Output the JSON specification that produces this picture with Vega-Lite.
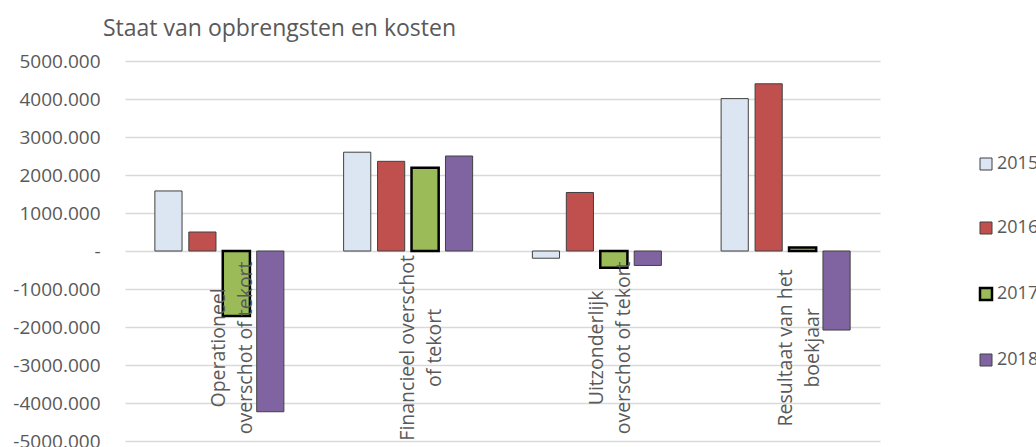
{
  "$schema": "https://vega.github.io/schema/vega-lite/v6.json",
  "autosize": {"type": "none"},
  "width": 755,
  "height": 380,
  "padding": {"left": 125, "top": 61, "right": 156, "bottom": 6},
  "background": "white",
  "title": {"text": "Staat van opbrengsten en kosten", "anchor": "start", "frame": "group", "dx": -22, "offset": 11, "fontSize": 23, "font": "Open Sans", "fontWeight": "normal", "color": "#595959"},
  "config": {"view": {"stroke": null}, "font": "Open Sans"},
  "datasets": {
    "bars": [
      {"post": "Operationeel", "year": "2015", "value": 1580},
      {"post": "Operationeel", "year": "2016", "value": 500},
      {"post": "Operationeel", "year": "2017", "value": -1710},
      {"post": "Operationeel", "year": "2018", "value": -4230},
      {"post": "Financieel", "year": "2015", "value": 2600},
      {"post": "Financieel", "year": "2016", "value": 2360},
      {"post": "Financieel", "year": "2017", "value": 2190},
      {"post": "Financieel", "year": "2018", "value": 2500},
      {"post": "Uitzonderlijk", "year": "2015", "value": -190},
      {"post": "Uitzonderlijk", "year": "2016", "value": 1540},
      {"post": "Uitzonderlijk", "year": "2017", "value": -440},
      {"post": "Uitzonderlijk", "year": "2018", "value": -380},
      {"post": "Resultaat", "year": "2015", "value": 4010},
      {"post": "Resultaat", "year": "2016", "value": 4400},
      {"post": "Resultaat", "year": "2017", "value": 90},
      {"post": "Resultaat", "year": "2018", "value": -2080}
    ],
    "cats": [
      {"post": "Operationeel", "label": "Operationeel\noverschot of tekort"},
      {"post": "Financieel", "label": "Financieel overschot\nof tekort"},
      {"post": "Uitzonderlijk", "label": "Uitzonderlijk\noverschot of tekort"},
      {"post": "Resultaat", "label": "Resultaat van het\nboekjaar"}
    ]
  },
  "layer": [
    {
      "data": {"name": "bars"},
      "mark": {"type": "bar"},
      "encoding": {
        "x": {"field": "post", "type": "nominal", "sort": ["Operationeel", "Financieel", "Uitzonderlijk", "Resultaat"], "scale": {"paddingInner": 0, "paddingOuter": 0}, "axis": null},
        "xOffset": {"field": "year", "type": "nominal", "scale": {"paddingInner": 0.2, "paddingOuter": 0.88}},
        "y": {"field": "value", "type": "quantitative", "scale": {"domain": [-5000, 5000], "nice": false},
          "axis": {"title": null, "values": [-5000, -4000, -3000, -2000, -1000, 0, 1000, 2000, 3000, 4000, 5000],
            "labelExpr": "datum.value == 0 ? '-' : (datum.value < 0 ? '-' : '') + format(abs(datum.value), '.3f')",
            "labelOverlap": false,
            "ticks": false, "domain": false, "gridColor": "#D9D9D9", "gridWidth": 1.5, "labelFontSize": 19, "labelColor": "#595959", "labelPadding": 25}},
        "color": {"field": "year", "type": "nominal", "scale": {"domain": ["2015", "2016", "2017", "2018"], "range": ["#DCE6F2", "#C0504D", "#9BBB59", "#8064A2"]},
          "legend": {"title": null, "orient": "none", "legendX": 852, "legendY": 94, "symbolType": "square", "symbolSize": 144, "labelFontSize": 18, "labelColor": "#595959", "rowPadding": 46, "labelOffset": 2, "padding": 0}},
        "stroke": {"field": "year", "type": "nominal", "scale": {"domain": ["2015", "2016", "2017", "2018"], "range": ["#404040", "#404040", "#000000", "#404040"]},
          "legend": {"title": null, "orient": "none", "legendX": 852, "legendY": 94, "symbolType": "square", "symbolSize": 144, "labelFontSize": 18, "labelColor": "#595959", "rowPadding": 46, "labelOffset": 2, "padding": 0}},
        "strokeWidth": {"field": "year", "type": "nominal", "scale": {"type": "ordinal", "domain": ["2015", "2016", "2017", "2018"], "range": [1, 1, 2.5, 1]},
          "legend": {"title": null, "orient": "none", "legendX": 852, "legendY": 94, "symbolType": "square", "symbolSize": 144, "labelFontSize": 18, "labelColor": "#595959", "rowPadding": 46, "labelOffset": 2, "padding": 0}}
      }
    },
    {
      "data": {"name": "cats"},
      "mark": {"type": "text", "angle": 270, "align": "center", "baseline": "middle", "lineBreak": "\n", "lineHeight": 27, "fontSize": 19.5, "color": "#595959"},
      "encoding": {
        "x": {"field": "post", "type": "nominal", "sort": ["Operationeel", "Financieel", "Uitzonderlijk", "Resultaat"]},
        "y": {"datum": -2550, "type": "quantitative",
          "axis": {"title": null, "values": [-5000, -4000, -3000, -2000, -1000, 0, 1000, 2000, 3000, 4000, 5000],
            "labelExpr": "datum.value == 0 ? '-' : (datum.value < 0 ? '-' : '') + format(abs(datum.value), '.3f')",
            "labelOverlap": false,
            "ticks": false, "domain": false, "gridColor": "#D9D9D9", "gridWidth": 1.5, "labelFontSize": 19, "labelColor": "#595959", "labelPadding": 25}},
        "text": {"field": "label"}
      }
    }
  ]
}
